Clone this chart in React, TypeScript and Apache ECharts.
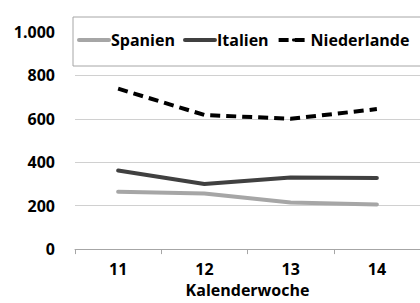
import React, { useEffect, useRef } from "react";
import * as echarts from "echarts";

const categories = ["11", "12", "13", "14"];
const spanien = [264, 256, 215, 206];
const italien = [362, 300, 330, 327];
const niederlande = [739, 618, 600, 645];
const seriesNames = ["Spanien", "Italien", "Niederlande"];

const FONT = "'Open Sans', sans-serif";

export default function App() {
  const ref = useRef<HTMLDivElement>(null);
  useEffect(() => {
    if (!ref.current) return;
    const chart = echarts.init(ref.current, undefined, { renderer: "svg" });
    chart.setOption({
      animation: false,
      backgroundColor: "#ffffff",
      textStyle: { fontFamily: FONT },
      grid: { left: 75, right: -3, top: 32, bottom: 51, containLabel: false },
      graphic: [
        {
          type: "rect",
          z: 3,
          shape: { x: 73, y: 17, width: 360, height: 49 },
          style: { fill: "#ffffff", stroke: "#a6a6a6", lineWidth: 1 },
        },
      ],
      legend: {
        left: 77,
        top: 32,
        z: 5,
        itemWidth: 30,
        itemHeight: 4,
        itemGap: 8,
        padding: 0,
        data: seriesNames,
        lineStyle: { width: 4 },
        textStyle: { fontFamily: FONT, fontWeight: "bold", fontSize: 16, color: "#000", padding: [0, 0, 0, -3] },
      },
      xAxis: {
        type: "category",
        data: categories,
        boundaryGap: true,
        name: "Kalenderwoche",
        nameLocation: "middle",
        nameGap: 27,
        nameTextStyle: { fontFamily: FONT, fontWeight: "bold", fontSize: 16, color: "#000" },
        axisLine: { lineStyle: { color: "#a6a6a6", width: 1 } },
        axisTick: { show: true, length: 5, alignWithLabel: false, lineStyle: { color: "#a6a6a6" } },
        axisLabel: { fontFamily: FONT, fontWeight: "bold", fontSize: 16, color: "#000", margin: 12 },
      },
      yAxis: {
        type: "value",
        min: 0,
        max: 1000,
        interval: 200,
        axisLine: { show: false },
        axisTick: { show: false },
        splitLine: { lineStyle: { color: "#d0d0d0", width: 1 } },
        axisLabel: {
          fontFamily: FONT,
          fontWeight: "bold",
          fontSize: 16,
          color: "#000",
          margin: 20,
          formatter: (v: number) => (v >= 1000 ? (v / 1000).toFixed(0) + "." + String(v % 1000).padStart(3, "0") : String(v)),
        },
      },
      series: [
        {
          name: seriesNames[0],
          type: "line",
          data: spanien,
          symbol: "none",
          color: "#a6a6a6",
          lineStyle: { color: "#a6a6a6", width: 4, cap: "round", join: "round" },
        },
        {
          name: seriesNames[1],
          type: "line",
          data: italien,
          symbol: "none",
          color: "#404040",
          lineStyle: { color: "#404040", width: 4, cap: "round", join: "round" },
        },
        {
          name: seriesNames[2],
          type: "line",
          data: niederlande,
          symbol: "none",
          color: "#000000",
          lineStyle: { color: "#000000", width: 4, type: [10, 6], cap: "butt", join: "round" },
        },
      ],
    });
    return () => chart.dispose();
  }, []);
  return (
    <div
      ref={ref}
      style={{ position: "absolute", left: 0, top: 0, width: 420, height: 303, background: "#fff" }}
    />
  );
}
